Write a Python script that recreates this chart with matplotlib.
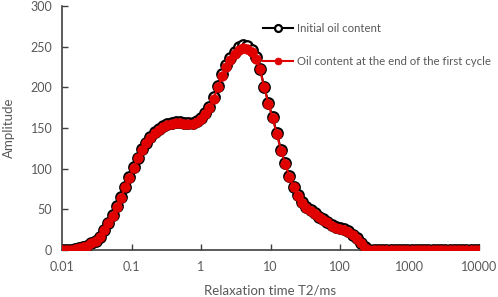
import numpy as np
import matplotlib
matplotlib.use("Agg")
import matplotlib.pyplot as plt

# Relaxation time grid (ms), 100 log-spaced instrument points 0.01 .. 10000
t2 = np.logspace(-2, 4, 100)

# Amplitude, oil content at the end of the first cycle (red)
first_cycle = [
    0, 0.3, 0.6, 1.2, 2, 3.5, 5.5, 8, 11.5, 16.5,
    24, 33, 42, 53, 64.5, 77, 89, 101, 113, 123,
    131, 138, 143.5, 148, 151, 153.5, 155, 156, 156, 155.5,
    155, 155, 157, 161, 167, 175, 186, 200, 214, 225,
    233, 241, 246, 248, 247, 243, 235, 222, 200, 180,
    162, 143, 122, 106, 90, 77, 67, 58, 52, 48,
    44, 40, 37, 34, 30, 27, 25.5, 25, 22, 18,
    13.5, 8, 3, 0.5, 0, 0, 0, 0, 0, 0,
    0, 0, 0, 0, 0, 0, 0, 0, 0, 0,
    0, 0, 0, 0, 0, 0, 0, 0, 0, 0,
]

# Amplitude, initial oil content (black)
initial = [
    0, 0.3, 0.6, 1.2, 2, 3.5, 5.5, 8, 11.5, 16.5,
    24, 33, 42.5, 53.5, 65, 77.5, 89.5, 101.5, 113.5, 124,
    132, 139, 144.5, 149, 152, 154.5, 156, 157, 157, 156.5,
    156, 156, 158, 162, 168, 176, 188, 202, 216, 228,
    236, 244, 249, 252, 251, 246, 237, 223, 201, 181,
    163, 144, 123, 107, 91, 78, 68, 59, 53, 49,
    45, 41, 38, 35, 31, 28, 26.5, 26, 23, 19,
    14.5, 9, 3.5, 0.5, 0, 0, 0, 0, 0, 0,
    0, 0, 0, 0, 0, 0, 0, 0, 0, 0,
    0, 0, 0, 0, 0, 0, 0, 0, 0, 0,
]

x_ticks = [0.01, 0.1, 1, 10, 100, 1000, 10000]
x_tick_labels = ["0.01", "0.1", "1", "10", "100", "1000", "10000"]
y_ticks = [0, 50, 100, 150, 200, 250, 300]

plt.rcParams['font.family'] = ['Lato', 'DejaVu Sans']
text_color = "#595959"

fig = plt.figure(figsize=(4.98, 2.97), dpi=100)
ax = fig.add_axes([62/498, (297-250)/297, (479-62)/498, (250-6)/297])

ax.plot(t2, initial, color="black", lw=1.5, marker="o", ms=7.6,
        mfc="white", mec="black", mew=1.6, label="Initial oil content", zorder=2)
ax.plot(t2, first_cycle, color="#e00000", lw=1.5, marker="o", ms=6.9,
        mfc="#e00000", mec="#e00000", mew=0.5,
        label="Oil content at the end of the first cycle", zorder=3)

ax.set_xscale("log")
ax.set_xlim(0.01, 10000)
ax.set_ylim(0, 300)
ax.set_xticks(x_ticks)
ax.set_xticklabels(x_tick_labels)
ax.minorticks_off()
ax.set_yticks(y_ticks)

for s in ["top", "right"]:
    ax.spines[s].set_visible(False)
for s in ["left", "bottom"]:
    ax.spines[s].set_color("#404040")
    ax.spines[s].set_linewidth(1.2)

ax.tick_params(axis="both", direction="in", length=4, width=1.0,
               color="#404040", labelcolor=text_color, labelsize=9)
ax.tick_params(axis="x", pad=8)
ax.tick_params(axis="y", pad=7)

ax.set_xlabel("Relaxation time T2/ms", color=text_color, fontsize=9.5, labelpad=8)
ax.set_ylabel("Amplitude", color=text_color, fontsize=9.5, labelpad=11)

leg = ax.legend(loc="upper left", bbox_to_anchor=(263/498, 1 - 23/297),
                bbox_transform=fig.transFigure, frameon=False,
                fontsize=8.2, labelcolor=text_color, handlelength=2.6,
                handletextpad=0.35, labelspacing=1.95, borderpad=0, borderaxespad=0)
for h in leg.legend_handles:
    h.set_markersize(5)

fig.savefig("out.png", dpi=100)
